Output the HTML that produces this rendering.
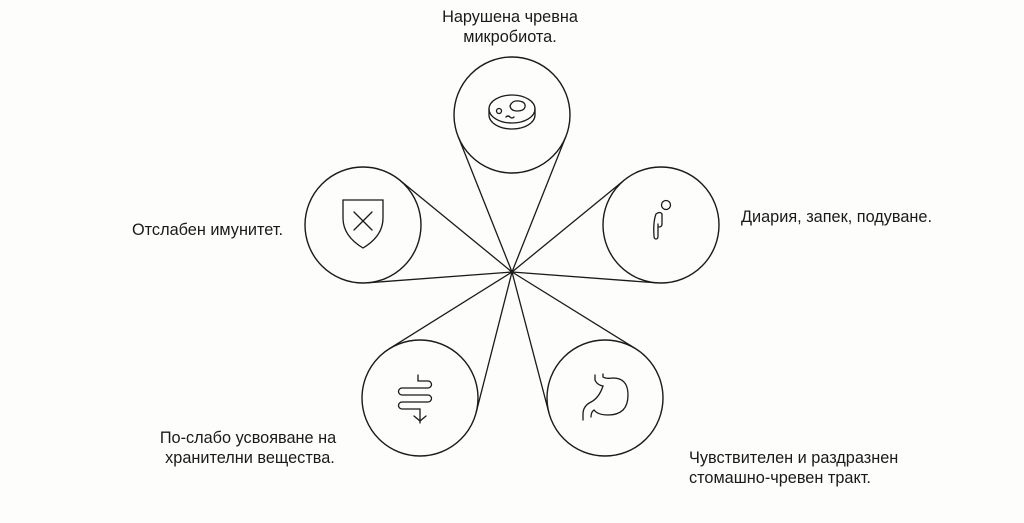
<!DOCTYPE html>
<html><head><meta charset="utf-8"><style>
body{margin:0;background:#fdfdfc;}
svg{display:block}
text{font-family:"Liberation Sans",sans-serif;font-size:16.3px;fill:#1a1a1a}
</style></head><body>
<svg id="s" width="1024" height="523" viewBox="0 0 1024 523">
<g id="lines" stroke="#1a1a1a" stroke-width="1.3" fill="none"></g>
<g stroke="#1a1a1a" stroke-width="1.4" fill="#fdfdfc">
<circle cx="512" cy="115" r="58"/>
<circle cx="363" cy="225" r="58"/>
<circle cx="661" cy="225" r="58"/>
<circle cx="420" cy="398" r="58"/>
<circle cx="605" cy="398" r="58"/>
</g>
<circle cx="512" cy="272" r="1.8" fill="#1a1a1a"/>
<g stroke="#1a1a1a" stroke-width="1.3" fill="none" stroke-linecap="round">
<ellipse cx="512" cy="109" rx="23" ry="14"/>
<path d="M489 109 v6 a23 14 0 0 0 46 0 v-6"/>
<ellipse cx="499" cy="111" rx="2.5" ry="2.5"/>
<path d="M510 106 q2 -6 9 -5 q7 1 6 6 q-1 4 -8 4 q-6 0 -7 -5z"/>
<path d="M506 117 q2 -2 4 0 q2 2 4 0"/>
<path d="M343 200 h40 v18 q0 18 -20 30 q-20 -12 -20 -30z"/>
<path d="M354 212 l18 18 M372 212 l-18 18"/>
<circle cx="666" cy="205" r="4.5"/>
<path d="M656 214 q4 -3 6 0 v10 q0 3 -3 3 M656 214 q-3 8 -2 22 q0 3 2 3 q2 0 2 -3 v-12"/>
<path d="M418 375 v6 h10 a3.5 3.5 0 0 1 0 7 h-26 a3.5 3.5 0 0 0 0 7 h26 a3.5 3.5 0 0 1 0 7 h-26 a3.5 3.5 0 0 0 0 7 h18 v14"/>
<path d="M414 416 l6 5 l6 -5"/>
<path d="M595 375 v5 q2 5 8 6 q-4 12 -12 16 q-8 4 -8 12 v6"/>
<path d="M603 374 v3 q3 2 10 1 q15 0 15 17 q0 20 -20 20 q-10 0 -14 -5 q-3 2 -3 7"/>
</g>
<text x="510" y="22" text-anchor="middle">Нарушена чревна</text>
<text x="510" y="42" text-anchor="middle">микробиота.</text>
<text x="283" y="235" text-anchor="end">Отслабен имунитет.</text>
<text x="741" y="222">Диария, запек, подуване.</text>
<text x="248" y="443" text-anchor="middle">По-слабо усвояване на</text>
<text x="250" y="463" text-anchor="middle">хранителни вещества.</text>
<text x="689" y="463">Чувствителен и раздразнен</text>
<text x="689" y="483">стомашно-чревен тракт.</text>
</svg>
<script>
var P=[512,272],C=[[512,115],[363,225],[661,225],[420,398],[605,398]],r=58,g=document.getElementById('lines'),h='';
C.forEach(function(c){var dx=c[0]-P[0],dy=c[1]-P[1],d=Math.hypot(dx,dy),a=Math.atan2(dy,dx),b=Math.asin(r/d),L=Math.sqrt(d*d-r*r);
[-1,1].forEach(function(s){var t=a+s*b;h+='<line x1="'+P[0]+'" y1="'+P[1]+'" x2="'+(P[0]+L*Math.cos(t))+'" y2="'+(P[1]+L*Math.sin(t))+'"/>';});});
g.innerHTML=h;
</script>
</body></html>
